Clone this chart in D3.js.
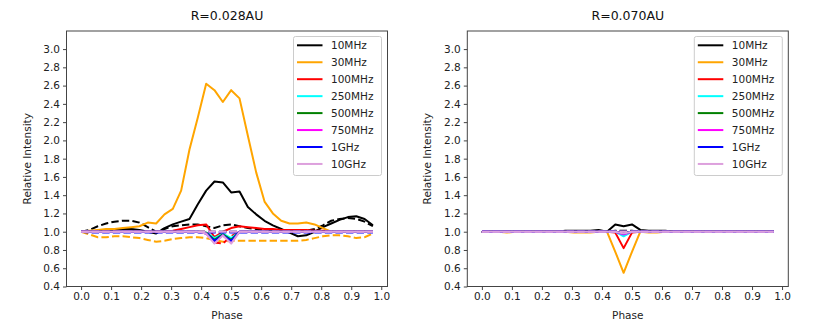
<!DOCTYPE html>
<html><head><meta charset="utf-8">
<script src="https://cdn.jsdelivr.net/npm/d3@7"></script>
<style>body{margin:0;background:#fff}svg{display:block}text{font-family:"DejaVu Sans",sans-serif}</style>
</head><body>
<svg id="c" width="830" height="332"></svg>
<script>
const phase = [0,0.0278,0.0556,0.0833,0.1111,0.1389,0.1667,0.1944,0.2222,0.25,0.2778,0.3056,0.3333,0.3611,0.3889,0.4167,0.4444,0.4722,0.5,0.5278,0.5556,0.5833,0.6111,0.6389,0.6667,0.6944,0.7222,0.75,0.7778,0.8056,0.8333,0.8611,0.8889,0.9167,0.9444,0.9722];
const freqs = ["10MHz","30MHz","100MHz","250MHz","500MHz","750MHz","1GHz","10GHz"];
const colors = ["#000000","#ffa500","#ff0000","#00ffff","#008000","#ff00ff","#0000ff","#dda0dd"];
const titles = ["R=0.028AU","R=0.070AU"];
const xTicks = [0,0.1,0.2,0.3,0.4,0.5,0.6,0.7,0.8,0.9,1.0];
const yTicks = [0.4,0.6,0.8,1.0,1.2,1.4,1.6,1.8,2.0,2.2,2.4,2.6,2.8,3.0];

// R=0.028AU solid
const L_10MHz  = [1.0,1.0,1.01,1.02,1.02,1.03,1.03,1.02,1.0,0.98,1.04,1.08,1.11,1.14,1.3,1.45,1.55,1.54,1.43,1.44,1.27,1.19,1.12,1.07,1.03,0.99,0.95,0.96,1.0,1.05,1.09,1.13,1.16,1.17,1.14,1.07];
const L_30MHz  = [1.0,1.01,1.02,1.03,1.03,1.04,1.05,1.06,1.1,1.09,1.19,1.25,1.45,1.9,2.25,2.62,2.55,2.42,2.55,2.46,2.05,1.65,1.33,1.2,1.12,1.09,1.09,1.1,1.08,1.04,1.0,1.0,1.0,1.0,1.0,1.0];
const L_100MHz = [1.0,1.0,1.0,1.0,1.0,1.0,1.0,1.0,1.0,1.0,1.0,1.01,1.03,1.05,1.07,1.08,0.94,1.0,1.04,1.06,1.05,1.04,1.03,1.03,1.02,1.02,1.02,1.02,1.01,1.01,1.0,1.0,1.0,1.0,1.0,1.0];
const L_250MHz = [1.0,1.0,1.0,1.0,1.0,1.0,1.0,1.0,1.0,1.0,1.0,1.0,1.0,1.0,1.0,0.99,0.93,0.98,0.93,1.0,1.0,1.0,1.0,1.0,1.0,1.0,1.0,1.0,1.0,1.0,1.0,1.0,1.0,1.0,1.0,1.0];
const L_500MHz = [1.0,1.0,1.0,1.0,1.0,1.0,1.0,1.0,1.0,1.0,1.0,1.0,1.0,1.0,1.0,0.99,0.91,0.97,0.91,1.0,1.0,1.0,1.0,1.0,1.0,1.0,1.0,1.0,1.0,1.0,1.0,1.0,1.0,1.0,1.0,1.0];
const L_750MHz = [1.0,1.0,1.0,1.0,1.0,1.0,1.0,1.0,1.0,1.0,1.0,1.0,1.0,1.0,1.0,0.98,0.88,0.96,0.88,1.0,1.0,1.0,1.0,1.0,1.0,1.0,1.0,1.0,1.0,1.0,1.0,1.0,1.0,1.0,1.0,1.0];
const L_1GHz   = [1.0,1.0,1.0,1.0,1.0,1.0,1.0,1.0,1.0,1.0,1.0,1.0,1.0,1.0,1.0,0.98,0.9,0.96,0.9,1.0,1.0,1.0,1.0,1.0,1.0,1.0,1.0,1.0,1.0,1.0,1.0,1.0,1.0,1.0,1.0,1.0];
const L_10GHz  = [1.0,1.0,1.0,1.0,1.0,1.0,1.0,1.0,1.0,1.0,1.0,1.0,1.0,1.0,1.0,0.98,0.87,0.96,0.87,1.0,1.0,1.0,1.0,1.0,1.0,1.0,1.0,1.0,1.0,1.0,1.0,1.0,1.0,1.0,1.0,1.0];
// R=0.028AU dashed
const Ld_10MHz  = [1.0,1.02,1.06,1.09,1.11,1.12,1.12,1.1,1.05,1.0,1.03,1.06,1.07,1.08,1.08,1.06,1.04,1.07,1.08,1.06,1.04,1.03,1.02,1.02,1.02,1.01,1.01,1.01,1.03,1.07,1.12,1.14,1.15,1.14,1.11,1.06];
const Ld_30MHz  = [1.0,0.97,0.94,0.94,0.95,0.95,0.94,0.93,0.91,0.89,0.9,0.92,0.93,0.94,0.94,0.93,0.91,0.89,0.9,0.9,0.9,0.9,0.9,0.9,0.9,0.9,0.9,0.91,0.93,0.95,0.96,0.96,0.95,0.93,0.94,0.98];
const Ld_100MHz = [1.0,1.0,1.0,1.0,1.0,1.0,1.0,1.0,1.0,1.0,1.0,1.0,1.0,1.0,1.0,1.0,0.88,0.87,0.95,1.0,1.0,1.0,1.0,1.0,1.0,1.0,1.0,1.0,1.0,1.0,1.0,1.0,1.0,1.0,1.0,1.0];
const Ld_250MHz = [1.0,1.0,1.0,1.0,1.0,1.0,1.0,1.0,1.0,1.0,1.0,1.0,1.0,1.0,1.0,1.0,1.0,1.0,1.0,1.0,1.0,1.0,1.0,1.0,1.0,1.0,1.0,1.0,1.0,1.0,1.0,1.0,1.0,1.0,1.0,1.0];
const Ld_500MHz = [1.0,1.0,1.0,1.0,1.0,1.0,1.0,1.0,1.0,1.0,1.0,1.0,1.0,1.0,1.0,1.0,1.0,1.0,1.0,1.0,1.0,1.0,1.0,1.0,1.0,1.0,1.0,1.0,1.0,1.0,1.0,1.0,1.0,1.0,1.0,1.0];
const Ld_750MHz = [1.0,1.0,1.0,1.0,1.0,1.0,1.0,1.0,1.0,1.0,1.0,1.0,1.0,1.0,1.0,1.0,1.0,1.0,1.0,1.0,1.0,1.0,1.0,1.0,1.0,1.0,1.0,1.0,1.0,1.0,1.0,1.0,1.0,1.0,1.0,1.0];
const Ld_1GHz   = [1.0,0.99,0.99,0.99,0.99,0.99,0.99,0.99,0.99,0.99,0.99,0.99,0.99,0.99,0.99,0.99,0.99,0.99,0.99,0.99,0.99,0.99,0.99,0.99,0.99,0.99,0.99,0.99,0.99,0.99,0.99,0.99,0.99,0.99,0.99,0.99];
const Ld_10GHz  = [1.0,1.0,1.0,1.0,1.0,1.0,1.0,1.0,1.0,1.0,1.0,1.0,1.0,1.0,1.0,1.0,1.0,1.0,1.0,1.0,1.0,1.0,1.0,1.0,1.0,1.0,1.0,1.0,1.0,1.0,1.0,1.0,1.0,1.0,1.0,1.0];

// R=0.070AU solid
const R_10MHz  = [1.0,1.0,1.0,1.0,1.0,1.0,1.0,1.0,1.0,1.0,1.01,1.01,1.01,1.01,1.02,1.0,1.08,1.06,1.08,1.02,1.01,1.01,1.01,1.0,1.0,1.0,1.0,1.0,1.0,1.0,1.0,1.0,1.0,1.0,1.0,1.0];
const R_30MHz  = [1.0,1.0,1.0,0.99,1.0,1.0,1.0,1.0,1.0,1.0,1.0,0.99,0.99,0.99,1.0,1.0,0.78,0.55,0.78,1.0,0.99,0.99,1.0,1.0,1.0,1.0,1.0,1.0,1.0,1.0,1.0,1.0,1.0,1.0,1.0,1.0];
const R_100MHz = [1.0,1.0,1.0,1.0,1.0,1.0,1.0,1.0,1.0,1.0,1.0,1.0,1.0,1.0,1.0,1.0,0.99,0.82,0.99,1.0,1.0,1.0,1.0,1.0,1.0,1.0,1.0,1.0,1.0,1.0,1.0,1.0,1.0,1.0,1.0,1.0];
const R_250MHz = [1.0,1.0,1.0,1.0,1.0,1.0,1.0,1.0,1.0,1.0,1.0,1.0,1.0,1.0,1.0,1.0,1.0,0.95,1.0,1.0,1.0,1.0,1.0,1.0,1.0,1.0,1.0,1.0,1.0,1.0,1.0,1.0,1.0,1.0,1.0,1.0];
const R_500MHz = [1.0,1.0,1.0,1.0,1.0,1.0,1.0,1.0,1.0,1.0,1.0,1.0,1.0,1.0,1.0,1.0,1.0,0.99,1.0,1.0,1.0,1.0,1.0,1.0,1.0,1.0,1.0,1.0,1.0,1.0,1.0,1.0,1.0,1.0,1.0,1.0];
const R_750MHz = [1.0,1.0,1.0,1.0,1.0,1.0,1.0,1.0,1.0,1.0,1.0,1.0,1.0,1.0,1.0,1.0,1.0,0.97,1.0,1.0,1.0,1.0,1.0,1.0,1.0,1.0,1.0,1.0,1.0,1.0,1.0,1.0,1.0,1.0,1.0,1.0];
const R_1GHz   = [1.0,1.0,1.0,1.0,1.0,1.0,1.0,1.0,1.0,1.0,1.0,1.0,1.0,1.0,1.0,1.0,1.0,0.98,1.0,1.0,1.0,1.0,1.0,1.0,1.0,1.0,1.0,1.0,1.0,1.0,1.0,1.0,1.0,1.0,1.0,1.0];
const R_10GHz  = [1.0,1.0,1.0,1.0,1.0,1.0,1.0,1.0,1.0,1.0,1.0,1.0,1.0,1.0,1.0,1.0,1.0,0.98,1.0,1.0,1.0,1.0,1.0,1.0,1.0,1.0,1.0,1.0,1.0,1.0,1.0,1.0,1.0,1.0,1.0,1.0];
// R=0.070AU dashed
const Rd_10MHz  = [1.0,1.0,1.0,1.0,1.0,1.0,1.0,1.0,1.0,1.0,1.0,1.0,1.0,1.0,1.0,1.0,1.01,1.01,1.01,1.0,1.0,1.0,1.0,1.0,1.0,1.0,1.0,1.0,1.0,1.0,1.0,1.0,1.0,1.0,1.0,1.0];
const Rd_30MHz  = [1.0,1.0,1.0,1.0,1.0,1.0,1.0,1.005,1.005,1.005,1.005,1.0,1.0,1.0,1.0,1.0,1.0,1.0,1.0,1.0,1.0,1.0,1.0,1.0,1.0,1.0,1.0,1.0,1.0,1.0,1.0,1.0,1.0,1.0,1.0,1.0];
const Rd_100MHz = [1.0,1.0,1.0,1.0,1.0,1.0,1.0,1.0,1.0,1.0,1.0,1.0,1.0,1.0,1.0,1.0,1.0,1.0,1.0,1.0,1.0,1.0,1.0,1.0,1.0,1.0,1.0,1.0,1.0,1.0,1.0,1.0,1.0,1.0,1.0,1.0];
const Rd_250MHz = [1.0,1.0,1.0,1.0,1.0,1.0,1.0,1.0,1.0,1.0,1.0,1.0,1.0,1.0,1.0,1.0,1.0,1.0,1.0,1.0,1.0,1.0,1.0,1.0,1.0,1.0,1.0,1.0,1.0,1.0,1.0,1.0,1.0,1.0,1.0,1.0];
const Rd_500MHz = [1.0,1.0,1.0,1.0,1.0,1.0,1.0,1.0,1.0,1.0,1.0,1.0,1.0,1.0,1.0,1.0,1.0,1.0,1.0,1.0,1.0,1.0,1.0,1.0,1.0,1.0,1.0,1.0,1.0,1.0,1.0,1.0,1.0,1.0,1.0,1.0];
const Rd_750MHz = [1.0,1.0,1.0,1.0,1.0,1.0,1.0,1.0,1.0,1.0,1.0,1.0,1.0,1.0,1.0,1.0,1.0,1.0,1.0,1.0,1.0,1.0,1.0,1.0,1.0,1.0,1.0,1.0,1.0,1.0,1.0,1.0,1.0,1.0,1.0,1.0];
const Rd_1GHz   = [1.0,1.0,1.0,1.0,1.0,1.0,1.0,1.0,1.0,1.0,1.0,1.0,1.0,1.0,1.0,1.0,1.0,1.0,1.0,1.0,1.0,1.0,1.0,1.0,1.0,1.0,1.0,1.0,1.0,1.0,1.0,1.0,1.0,1.0,1.0,1.0];
const Rd_10GHz  = [1.0,1.0,1.0,1.0,1.0,1.0,1.0,1.0,1.0,1.0,1.0,1.0,1.0,1.0,1.0,1.0,1.0,1.0,1.0,1.0,1.0,1.0,1.0,1.0,1.0,1.0,1.0,1.0,1.0,1.0,1.0,1.0,1.0,1.0,1.0,1.0];

const panels = [
  {title: titles[0], left: 66.5, solid: [L_10MHz,L_30MHz,L_100MHz,L_250MHz,L_500MHz,L_750MHz,L_1GHz,L_10GHz],
   dashed: [Ld_10MHz,Ld_30MHz,Ld_100MHz,Ld_250MHz,Ld_500MHz,Ld_750MHz,Ld_1GHz,Ld_10GHz]},
  {title: titles[1], left: 467.3, solid: [R_10MHz,R_30MHz,R_100MHz,R_250MHz,R_500MHz,R_750MHz,R_1GHz,R_10GHz],
   dashed: [Rd_10MHz,Rd_30MHz,Rd_100MHz,Rd_250MHz,Rd_500MHz,Rd_750MHz,Rd_1GHz,Rd_10GHz]}
];

const svg = d3.select("#c");
const W = 321, plotTop = 31, plotBottom = 286.5;
const spine = "#444";

panels.forEach(p => {
  const x = d3.scaleLinear().domain([-0.0486, 1.0208]).range([p.left, p.left + W]);
  const y = d3.scaleLinear().domain([0.4, 3.198]).range([plotBottom, plotTop]);
  const g = svg.append("g");
  const clipId = "clip" + Math.round(p.left);
  svg.append("clipPath").attr("id", clipId).append("rect")
    .attr("x", p.left).attr("y", plotTop).attr("width", W).attr("height", plotBottom - plotTop);

  const line = d3.line().x((d,i) => x(phase[i])).y(d => y(d));
  const lines = g.append("g").attr("clip-path", `url(#${clipId})`);
  freqs.forEach((f, k) => {
    lines.append("path").datum(p.solid[k]).attr("d", line)
      .attr("fill","none").attr("stroke", colors[k]).attr("stroke-width", 2)
      .attr("stroke-linejoin","round");
    lines.append("path").datum(p.dashed[k]).attr("d", line)
      .attr("fill","none").attr("stroke", colors[k]).attr("stroke-width", 2)
      .attr("stroke-dasharray","7.4,3.2");
  });

  const xa = g.append("g").attr("transform", `translate(0,${plotBottom})`)
    .call(d3.axisBottom(x).tickValues(xTicks).tickFormat(d3.format(".1f")).tickSize(3.5).tickSizeOuter(0));
  const ya = g.append("g").attr("transform", `translate(${p.left},0)`)
    .call(d3.axisLeft(y).tickValues(yTicks).tickFormat(d3.format(".1f")).tickSize(3.5).tickSizeOuter(0));
  [xa, ya].forEach(a => {
    a.select(".domain").remove();
    a.selectAll("line").attr("stroke", spine);
    a.selectAll("text").attr("fill","#222").style("font-size","10.5px").style("font-family","DejaVu Sans");
  });

  g.append("rect").attr("x", p.left).attr("y", plotTop).attr("width", W).attr("height", plotBottom - plotTop)
    .attr("fill","none").attr("stroke", spine).attr("stroke-width", 1);

  g.append("text").attr("x", p.left + W/2).attr("y", 20).attr("text-anchor","middle")
    .style("font-size","12.5px").attr("fill","#111").text(p.title);
  g.append("text").attr("x", p.left + W/2).attr("y", 319).attr("text-anchor","middle")
    .style("font-size","10.5px").attr("fill","#222").text("Phase");
  g.append("text").attr("transform", `translate(${p.left - 36},${(plotTop+plotBottom)/2}) rotate(-90)`)
    .attr("text-anchor","middle").style("font-size","10.5px").attr("fill","#222").text("Relative Intensity");

  const lx = p.left + 227, ly = 36.5;
  const lg = g.append("g");
  lg.append("rect").attr("x", lx).attr("y", ly).attr("width", 88).attr("height", 139).attr("rx", 2)
    .attr("fill","#fff").attr("fill-opacity",0.85).attr("stroke","#ccc");
  freqs.forEach((f, k) => {
    const yy = ly + 8.8 + k * 16.95;
    lg.append("line").attr("x1", lx + 3.5).attr("x2", lx + 29).attr("y1", yy).attr("y2", yy)
      .attr("stroke", colors[k]).attr("stroke-width", 2);
    lg.append("text").attr("x", lx + 37.5).attr("y", yy).attr("dy","0.36em")
      .style("font-size","10.5px").attr("fill","#222").text(f);
  });
});
</script>
</body></html>
